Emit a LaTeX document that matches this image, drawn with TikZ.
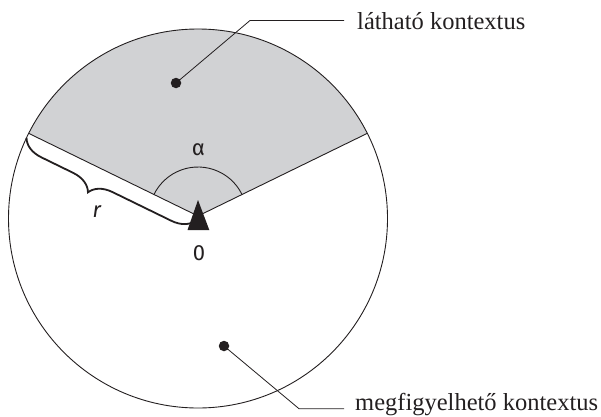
\documentclass[tikz,border=0pt]{standalone}
\usepackage{fontspec}
\setmainfont{Liberation Serif}
\newfontfamily\sansf{Fira Sans}
\usetikzlibrary{decorations.pathreplacing,calc}
\definecolor{sectorgray}{RGB}{209,210,212}
\definecolor{ink}{RGB}{35,31,32}
\tikzset{
  outline/.style={draw=ink, line width=0.9pt},
  leader/.style={draw=ink, line width=0.8pt},
  dotmark/.style={circle, fill=ink, inner sep=0pt, minimum size=10.5pt},
  labeltext/.style={anchor=base west, inner sep=0pt, font=\fontsize{24.5}{28}\selectfont, text=ink},
  symtext/.style={inner sep=0pt, font=\sansf\fontsize{22}{24}\selectfont, text=ink},
}
\begin{document}
\begin{tikzpicture}[x=1pt,y=1pt]
\useasboundingbox (0,0) rectangle (601,416);
% geometry
\coordinate (C) at (198,197.5);
\coordinate (V) at (198,200);
\coordinate (P1) at ($(C)+(153.3:189.5)$);
\coordinate (P2) at ($(C)+(26.7:189.5)$);
% sector
\fill[sectorgray] (V) -- (P1) arc[start angle=153.3, end angle=26.7, radius=189.5] -- cycle;
% circle
\draw[outline] (C) circle[radius=189.5];
% sector edges
\draw[outline] (P1) -- (V) -- (P2);
% alpha arc
\draw[outline] ($(V)+(26.1:49)$) arc[start angle=26.1, end angle=153.9, radius=49];
% brace
\draw[ink, line width=1.8pt, decorate, decoration={brace, amplitude=22pt, raise=5pt, aspect=0.58}] (V) -- (P1);
% observer triangle
\fill[ink] (198,216) -- (187.5,186) -- (209.3,186) -- cycle;
% symbols
\node[symtext] (alpha) at (198.3,266.7) {α};
\node[symtext] (zero) at (199,163.3) {0};
\node[symtext] (r) at (96.7,204.3) {\itshape r};
% dots and leaders
\node[dotmark] (d1) at (176,333) {};
\node[dotmark] (d2) at (224,70) {};
\coordinate (k1) at (250,395.5);
\coordinate (e1) at (344,395.5);
\coordinate (k2) at (299,7.3);
\coordinate (e2) at (344,7.3);
\draw[leader] (d1.center) -- (k1) -- (e1);
\draw[leader] (d2.center) -- (k2) -- (e2);
\node[labeltext] (t1) at (357,386.7) {látható kontextus};
\node[labeltext] (t2) at (355,6) {megfigyelhető kontextus};
\end{tikzpicture}
\end{document}
